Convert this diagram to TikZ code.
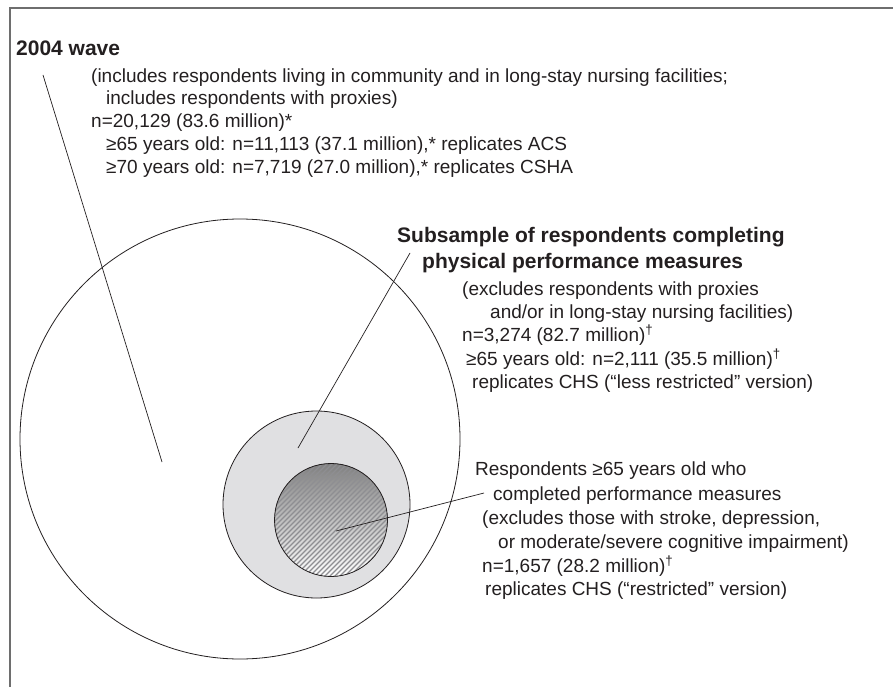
\documentclass[tikz,border=0pt]{standalone}
\usepackage{fontspec}
\setmainfont{Liberation Sans}
\definecolor{ink}{HTML}{231F20}
\definecolor{shade}{HTML}{E0E0E2}
\definecolor{hatch}{HTML}{8E8E92}
\definecolor{framegray}{HTML}{6E6E6E}

\begin{document}
\begin{tikzpicture}[x=1pt,y=-1pt,
  txt/.style={anchor=base west, inner sep=0pt, font=\fontsize{19}{23}\selectfont, text=ink},
  hd/.style={txt, font=\fontsize{21}{25}\selectfont\bfseries},
  ring/.style={draw=ink, line width=0.8pt},
  leader/.style={draw=ink, line width=0.7pt},
  hatchline/.style={draw=hatch, line width=1.2pt}]
\useasboundingbox (0,0) rectangle (893,687);

% frame (top and left rules)
\draw[framegray, line width=1.5pt] (10,687) -- (10,8) -- (893,8);

% nested sample circles
\draw[ring, fill=white] (240,439) circle[radius=220pt];
\draw[ring, fill=shade] (316.5,504.5) circle[radius=93.5pt];
\begin{scope}
  \clip (331,520) circle[radius=56.5pt];
  \fill[shade] (331,520) circle[radius=57pt];
  \foreach \d in {-90,-85,...,90}
    \draw[hatchline] (331+\d-70,590) -- (331+\d+70,450);
\end{scope}
\draw[ring] (331,520) circle[radius=56.5pt];

% 2004 wave
\node[hd]  (a0) at (16,56)   {2004 wave};
\node[txt] (a1) at (91,83)   {(includes respondents living in community and in long-stay nursing facilities;};
\node[txt] (a2) at (106,105) {includes respondents with proxies)};
\node[txt] (a3) at (91,128)  {n=20,129 (83.6 million)*};
\node[txt] (a4) at (106,151) {≥65 years old: n=11,113 (37.1 million),* replicates ACS};
\node[txt] (a5) at (106,174) {≥70 years old: n=7,719 (27.0 million),* replicates CSHA};

% physical performance subsample
\node[hd]  (b0) at (397,242) {Subsample of respondents completing};
\node[hd]  (b1) at (422,268) {physical performance measures};
\node[txt] (b2) at (462,295) {(excludes respondents with proxies};
\node[txt] (b3) at (490,318) {and/or in long-stay nursing facilities)};
\node[txt] (b4) at (462,341) {n=3,274 (82.7 million)\textsuperscript{†}};
\node[txt] (b5) at (466,365) {≥65 years old: n=2,111 (35.5 million)\textsuperscript{†}};
\node[txt] (b6) at (472,388) {replicates CHS (“less restricted” version)};

% restricted subsample
\node[txt] (c0) at (475,475) {Respondents ≥65 years old who};
\node[txt] (c1) at (493,500) {completed performance measures};
\node[txt] (c2) at (482,524) {(excludes those with stroke, depression,};
\node[txt] (c3) at (498,548) {or moderate/severe cognitive impairment)};
\node[txt] (c4) at (482,572) {n=1,657 (28.2 million)\textsuperscript{†}};
\node[txt] (c5) at (485,595) {replicates CHS (“restricted” version)};

% leader lines
\coordinate (wA) at (43,75);   \coordinate (wB) at (162,462);
\coordinate (sA) at (410,253); \coordinate (sB) at (298,448);
\coordinate (rA) at (484,493); \coordinate (rB) at (336,531);
\draw[leader] (wA) -- (wB);
\draw[leader] (sA) -- (sB);
\draw[leader] (rA) -- (rB);
\end{tikzpicture}
\end{document}
